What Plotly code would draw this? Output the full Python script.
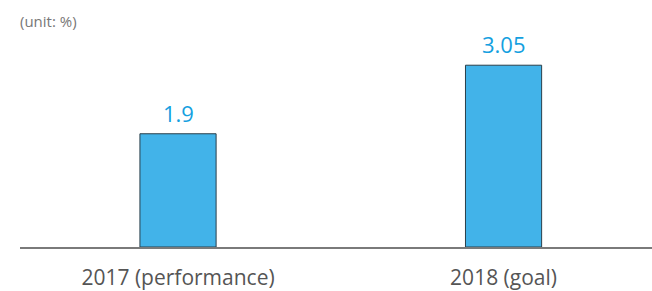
import plotly.graph_objects as go

categories = ["2017 (performance)", "2018 (goal)"]
values = [1.9, 3.05]
value_labels = ["1.9", "3.05"]

x_pos = list(range(len(categories)))

fig = go.Figure()
fig.add_trace(go.Bar(
    x=x_pos, y=values, width=0.234,
    marker=dict(color="#42b3e9", line=dict(color="#2a3f4a", width=1)),
    hoverinfo="skip",
))

for xp, v, t in zip(x_pos, values, value_labels):
    fig.add_annotation(x=xp, y=v, text=t, showarrow=False, yanchor="bottom",
                       yshift=4, font=dict(size=22, color="#14a0e0", family="Open Sans"))

fig.add_annotation(xref="paper", yref="paper", x=0, y=1, xanchor="left", yanchor="top",
                   xshift=-2, yshift=-9,
                   text="(unit: %)", showarrow=False,
                   font=dict(size=15, color="#777777", family="Open Sans"))

fig.update_layout(
    width=652, height=291,
    margin=dict(l=20, r=0, t=0, b=44, autoexpand=False),
    paper_bgcolor="white", plot_bgcolor="white",
    showlegend=False,
    xaxis=dict(range=[-0.4854, 1.456], tickvals=x_pos, ticktext=categories,
               automargin=False,
               showgrid=False, zeroline=False, showline=True, linecolor="#7a7a7a",
               linewidth=1.5, ticks="", ticklabelstandoff=11,
               tickfont=dict(size=21, color="#555555", family="Open Sans")),
    yaxis=dict(range=[0, 4.144], visible=False, automargin=False),
)

fig.write_html("out.html", config={"displayModeBar": False},
               post_script="document.body.style.margin='0px';")
